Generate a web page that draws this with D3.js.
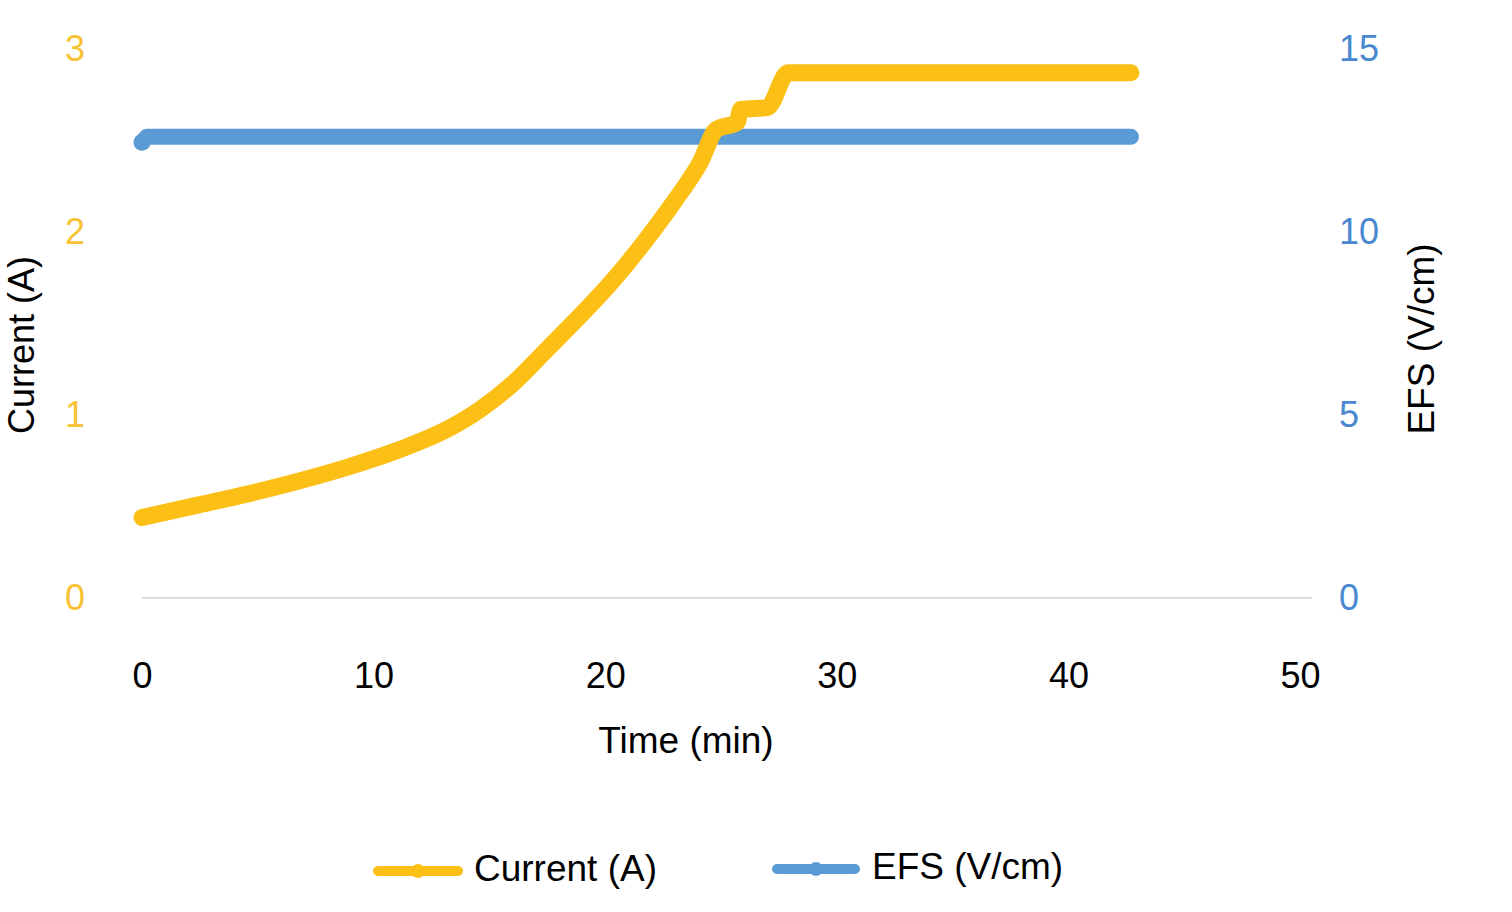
<!DOCTYPE html>
<html>
<head>
<meta charset="utf-8">
<script src="https://cdn.jsdelivr.net/npm/d3@7"></script>
<style>
  html, body { margin: 0; padding: 0; background: #fff; }
  svg text { font-family: "Liberation Sans", Arial, sans-serif; }
</style>
</head>
<body>
<svg id="chart" width="1512" height="912"></svg>
<script>
// Data
const currentTime  = [0, 2.5, 4.6, 6.8, 9.0, 11.1, 13.3, 14.6, 16.0, 17.5, 18.9, 20.3, 21.9, 23.0, 24.1, 24.8, 25.7, 25.85, 27.0, 27.9, 42.7];
const currentValue = [0.44, 0.51, 0.57, 0.64, 0.72, 0.81, 0.93, 1.03, 1.17, 1.36, 1.54, 1.73, 1.98, 2.17, 2.38, 2.56, 2.60, 2.67, 2.68, 2.87, 2.87];
const efsTime  = [0, 0.2, 42.7];
const efsValue = [12.45, 12.6, 12.6];
const xTicks = [0, 10, 20, 30, 40, 50];
const leftTicks = [0, 1, 2, 3];
const rightTicks = [0, 5, 10, 15];
const seriesNames = ["Current (A)", "EFS (V/cm)"];

const gold = "#FBBF15";
const blue = "#5B9BD5";
const goldText = "#F7C233";
const blueText = "#4A89CF";
const FONT = "Liberation Sans, Arial, sans-serif";

const svg = d3.select("#chart");
const x = d3.scaleLinear().domain([0, 50]).range([142, 1300]);
const yL = d3.scaleLinear().domain([0, 3]).range([598, 49]);
const yR = d3.scaleLinear().domain([0, 15]).range([598, 49]);

// baseline
svg.append("line")
  .attr("x1", x(0)).attr("x2", 1312)
  .attr("y1", yL(0)).attr("y2", yL(0))
  .attr("stroke", "#dcdcdc").attr("stroke-width", 2);

// x axis labels
const xAxis = d3.axisBottom(x).tickValues(xTicks).tickSize(0).tickPadding(0);
const gx = svg.append("g").attr("transform", `translate(0, 675)`).call(xAxis);
gx.select(".domain").remove();
gx.selectAll("text").attr("font-size", 36).attr("fill", "#000").attr("dy", "0.35em")
  .attr("font-family", FONT);

// left axis labels
const yAxisL = d3.axisLeft(yL).tickValues(leftTicks).tickFormat(d3.format("d")).tickSize(0).tickPadding(0);
const gl = svg.append("g").attr("transform", `translate(85, 0)`).call(yAxisL);
gl.select(".domain").remove();
gl.selectAll("text").attr("font-size", 36).attr("fill", goldText).attr("font-family", FONT);

// right axis labels
const yAxisR = d3.axisRight(yR).tickValues(rightTicks).tickFormat(d3.format("d")).tickSize(0).tickPadding(0);
const gr = svg.append("g").attr("transform", `translate(1339, 0)`).call(yAxisR);
gr.select(".domain").remove();
gr.selectAll("text").attr("font-size", 36).attr("fill", blueText).attr("font-family", FONT);

// axis titles
svg.append("text").attr("x", 686).attr("y", 743).attr("text-anchor", "middle")
  .attr("dominant-baseline", "middle").attr("font-size", 37).text("Time (min)");
svg.append("text").attr("transform", "translate(24,345) rotate(-90)")
  .attr("text-anchor", "middle").attr("dominant-baseline", "middle")
  .attr("font-size", 36).text("Current (A)");
svg.append("text").attr("transform", "translate(1424,339) rotate(-90)")
  .attr("text-anchor", "middle").attr("dominant-baseline", "middle")
  .attr("font-size", 37).text("EFS (V/cm)");

// lines
const efsData = efsTime.map((t, i) => ({t, v: efsValue[i]}));
const curData = currentTime.map((t, i) => ({t, v: currentValue[i]}));

svg.append("path").datum(efsData)
  .attr("fill", "none").attr("stroke", blue).attr("stroke-width", 16)
  .attr("stroke-linecap", "round").attr("stroke-linejoin", "round")
  .attr("d", d3.line().x(d => x(d.t)).y(d => yR(d.v)));
svg.append("circle").attr("cx", x(efsData[0].t)).attr("cy", yR(efsData[0].v))
  .attr("r", 8.5).attr("fill", blue);

svg.append("path").datum(curData)
  .attr("fill", "none").attr("stroke", gold).attr("stroke-width", 17)
  .attr("stroke-linecap", "round").attr("stroke-linejoin", "round")
  .attr("d", d3.line().curve(d3.curveMonotoneX).x(d => x(d.t)).y(d => yL(d.v)));

// legend
const legend = [
  {name: seriesNames[0], color: gold, x0: 378, x1: 458, tx: 474, y: 871},
  {name: seriesNames[1], color: blue, x0: 777, x1: 855, tx: 872, y: 869}
];
legend.forEach(l => {
  svg.append("line").attr("x1", l.x0).attr("x2", l.x1).attr("y1", l.y).attr("y2", l.y)
    .attr("stroke", l.color).attr("stroke-width", 10).attr("stroke-linecap", "round");
  svg.append("circle").attr("cx", (l.x0 + l.x1) / 2).attr("cy", l.y).attr("r", 7).attr("fill", l.color);
  svg.append("text").attr("x", l.tx).attr("y", l.y).attr("dominant-baseline", "middle")
    .attr("font-size", 37).attr("fill", "#000").text(l.name);
});
</script>
</body>
</html>
